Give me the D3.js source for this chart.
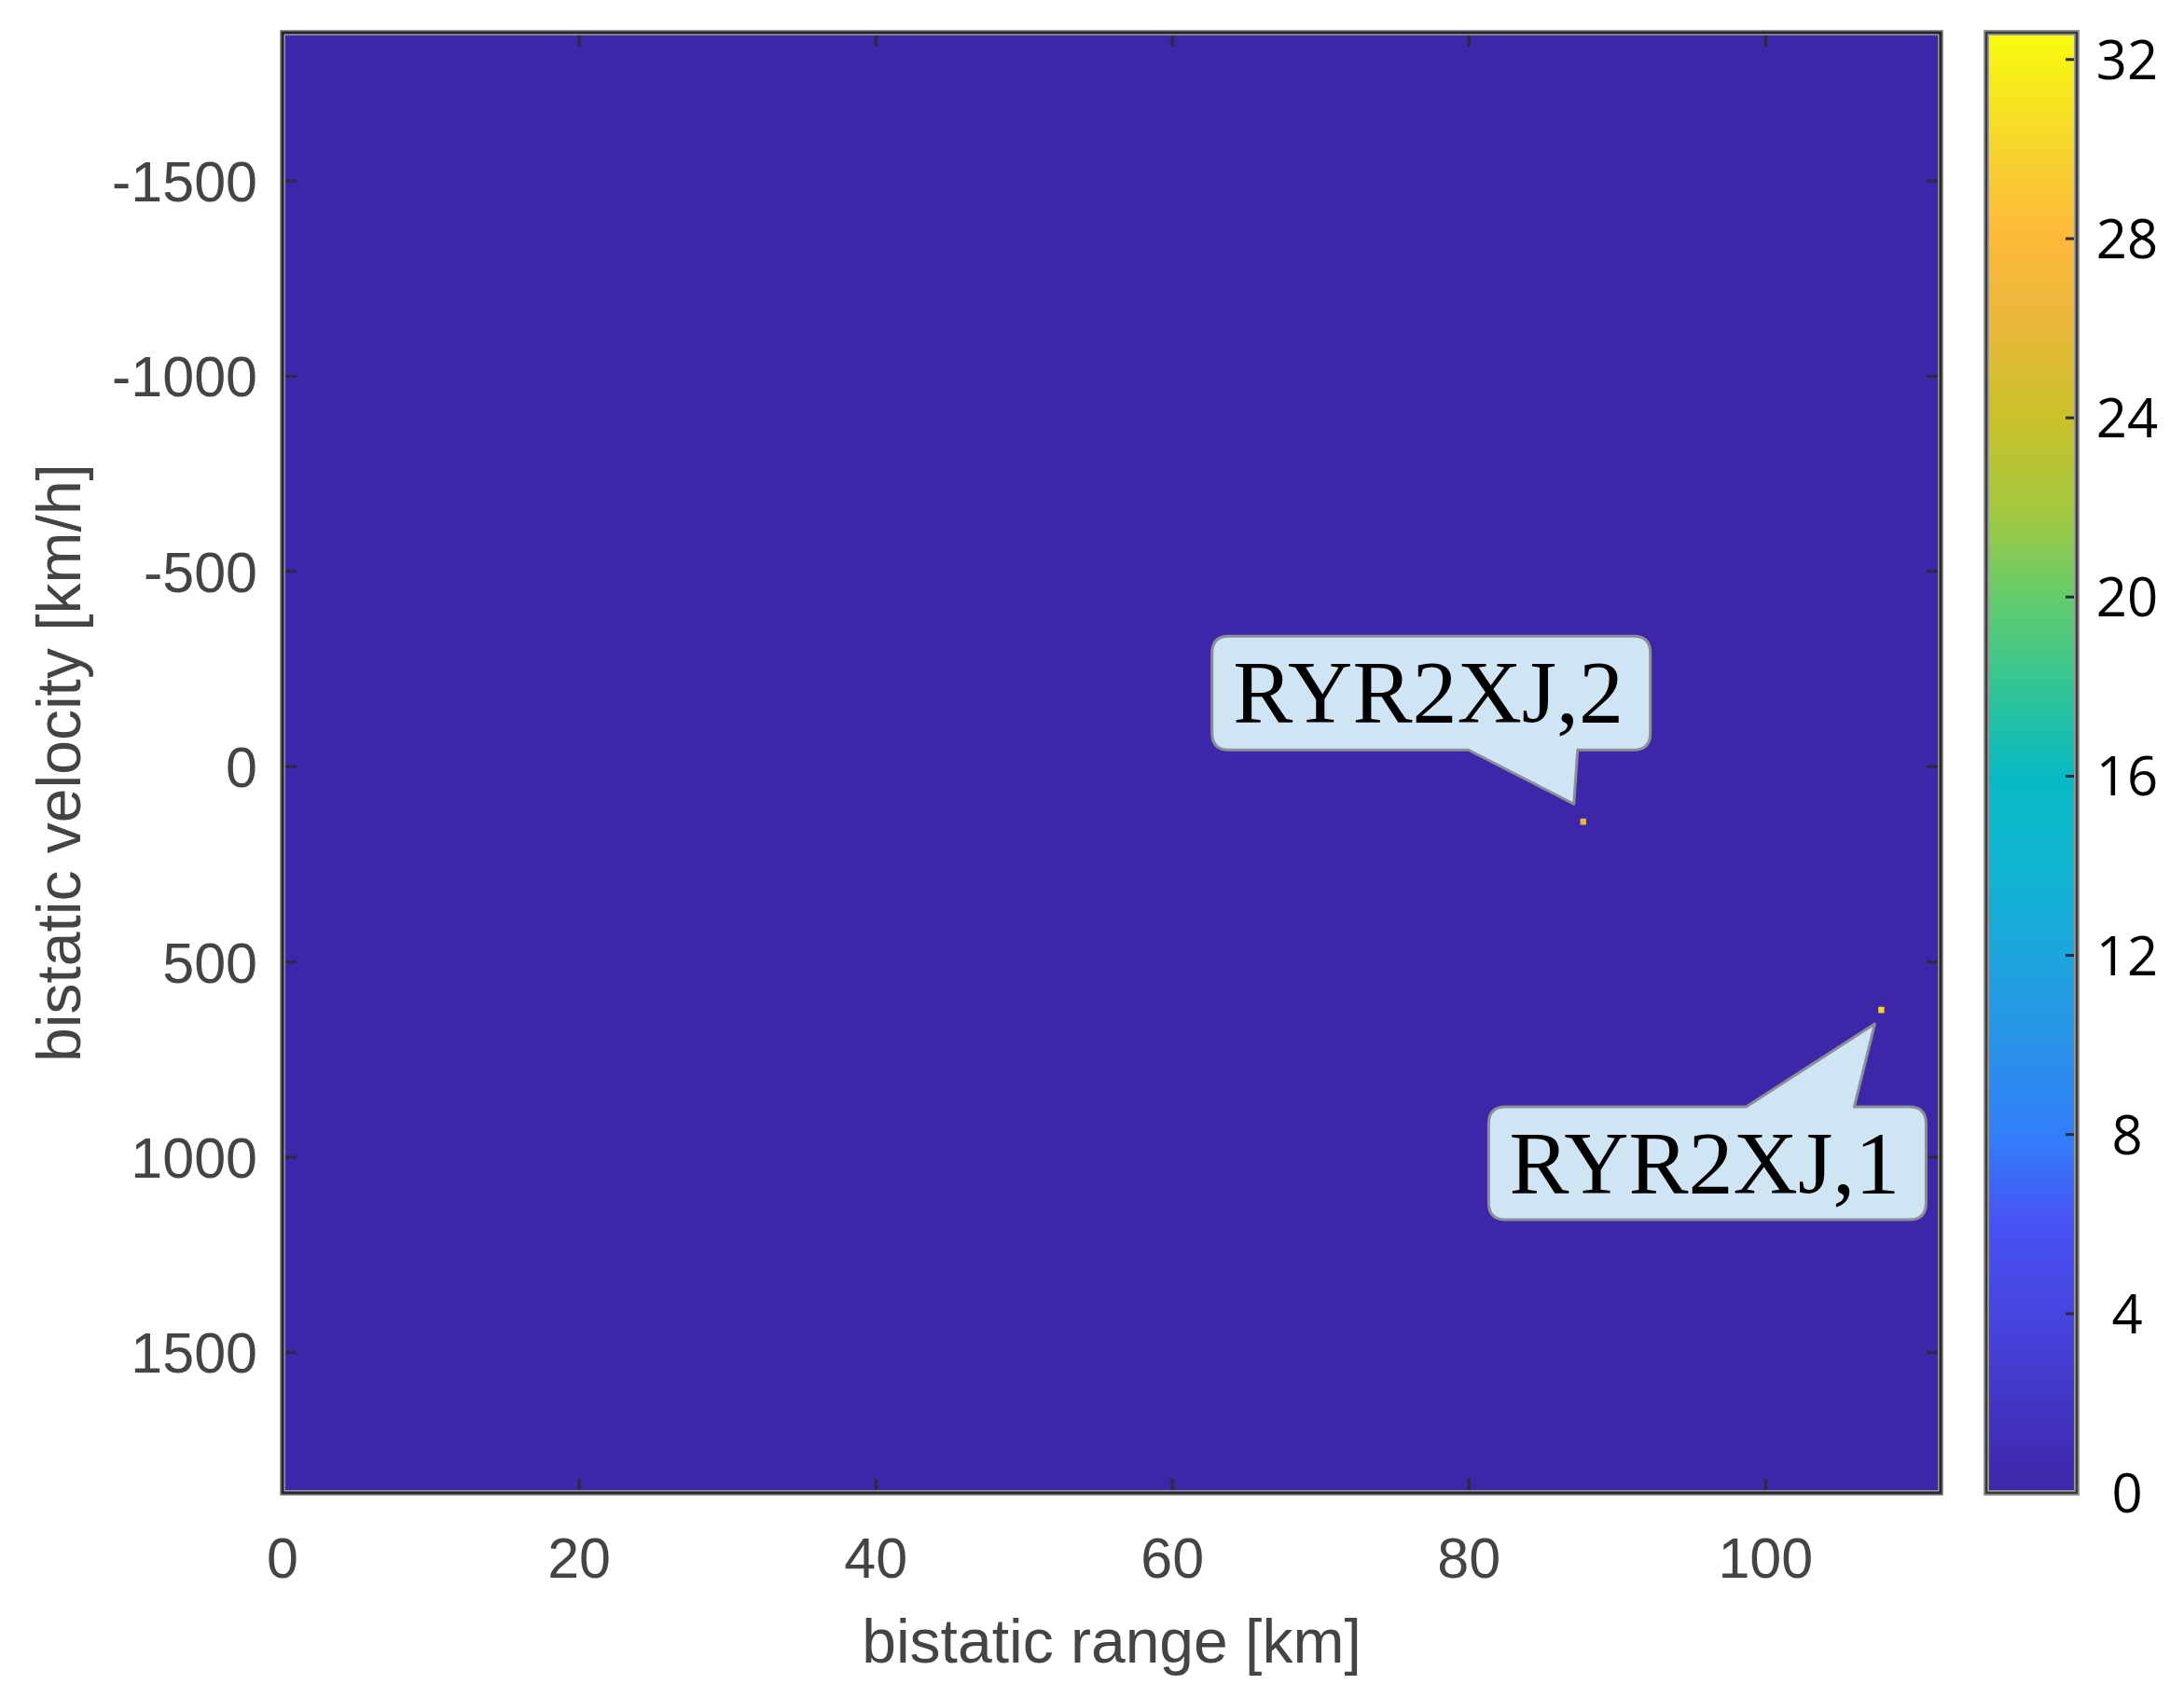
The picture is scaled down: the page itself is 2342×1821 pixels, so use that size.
<!DOCTYPE html>
<html lang="en">
<head>
<meta charset="UTF-8">
<script src="https://d3js.org/d3.v7.min.js"></script>
<title>Range-Doppler map</title>
<style>
  html, body { margin: 0; padding: 0; background: #fff; }
</style>
</head>
<body>
<script>
// axes
var rangeDomain = [0, 111.8];          // bistatic range [km]
var velocityDomain = [-1880, 1860];    // bistatic velocity [km/h]
var xTicks = [0, 20, 40, 60, 80, 100];
var yTicks = [-1500, -1000, -500, 0, 500, 1000, 1500];
var colorTicks = [0, 4, 8, 12, 16, 20, 24, 28, 32];
var colorMax = 32.6;

// detections (everything else in the map is 0)
var targetLabels = ["RYR2XJ,1", "RYR2XJ,2"];
var targetRange = [107.8, 87.7];
var targetVelocity = [623, 141];
var targetPower = [30, 26];
var rangeBin = 0.4;
var velocityBin = 16;

// parula-like colormap, sampled off the colorbar
var cmapValues = [0, 4, 6, 8, 10, 12, 14, 16, 18, 20, 22, 24, 26, 28, 30, 32.6];
var cmapColors = ["#3e26a8", "#4745e0", "#4852f3", "#327ffa", "#2a92e8", "#1da5dd", "#10b5d0",
                  "#08b9c4", "#32c595", "#64cc6c", "#a6c83f", "#cac12a", "#e8b83a", "#fdb93a",
                  "#f6d42e", "#f9fb0e"];

var W = 2342, H = 1821;
var svg = d3.select("body").append("svg")
    .attr("width", W)
    .attr("height", H)
    .style("display", "block");

var x = d3.scaleLinear().domain(rangeDomain).range([303, 2081]);
var y = d3.scaleLinear().domain(velocityDomain).range([35, 1601]);
var color = d3.scaleLinear()
    .domain(cmapValues)
    .range(cmapColors)
    .interpolate(d3.interpolateRgb)
    .clamp(true);

var tickFont = "'Liberation Sans', Arial, sans-serif";
var tickColor = "#444";

// heat map background (all zero cells)
svg.append("rect")
    .attr("x", x(rangeDomain[0]))
    .attr("y", y(velocityDomain[0]))
    .attr("width", x(rangeDomain[1]) - x(rangeDomain[0]))
    .attr("height", y(velocityDomain[1]) - y(velocityDomain[0]))
    .attr("fill", color(0));

var targets = targetLabels.map(function(l, i) {
    return { label: l, r: targetRange[i], v: targetVelocity[i], p: targetPower[i] };
});

svg.selectAll("rect.cell")
    .data(targets)
    .enter()
    .append("rect")
    .attr("class", "cell")
    .attr("x", function(d) { return x(d.r - rangeBin / 2); })
    .attr("y", function(d) { return y(d.v - velocityBin / 2); })
    .attr("width", function(d) { return x(d.r + rangeBin / 2) - x(d.r - rangeBin / 2); })
    .attr("height", function(d) { return y(d.v + velocityBin / 2) - y(d.v - velocityBin / 2); })
    .attr("fill", function(d) { return color(d.p); });

// ticks inside the box, all four sides
var tl = 15;
var tg = svg.append("g").attr("stroke", "#2a2a40").attr("stroke-width", 3);
xTicks.forEach(function(t) {
    tg.append("line").attr("x1", x(t)).attr("x2", x(t)).attr("y1", 1601).attr("y2", 1601 - tl);
    tg.append("line").attr("x1", x(t)).attr("x2", x(t)).attr("y1", 35).attr("y2", 35 + tl);
});
yTicks.forEach(function(t) {
    tg.append("line").attr("x1", 303).attr("x2", 303 + tl).attr("y1", y(t)).attr("y2", y(t));
    tg.append("line").attr("x1", 2081).attr("x2", 2081 - tl).attr("y1", y(t)).attr("y2", y(t));
});

// box
svg.append("rect")
    .attr("x", 303).attr("y", 35)
    .attr("width", 2081 - 303).attr("height", 1601 - 35)
    .attr("fill", "none")
    .attr("stroke", "#999").attr("stroke-width", 6);
svg.append("rect")
    .attr("x", 303).attr("y", 35)
    .attr("width", 2081 - 303).attr("height", 1601 - 35)
    .attr("fill", "none")
    .attr("stroke", "#262630").attr("stroke-width", 3);

// tick labels
svg.selectAll("text.xt")
    .data(xTicks)
    .enter()
    .append("text")
    .attr("x", function(d) { return x(d); })
    .attr("y", 1692)
    .attr("text-anchor", "middle")
    .attr("font-family", tickFont)
    .attr("font-size", 61)
    .attr("fill", tickColor)
    .text(function(d) { return d; });

svg.selectAll("text.yt")
    .data(yTicks)
    .enter()
    .append("text")
    .attr("x", 276)
    .attr("y", function(d) { return y(d) + 22; })
    .attr("text-anchor", "end")
    .attr("font-family", tickFont)
    .attr("font-size", 61)
    .attr("fill", tickColor)
    .text(function(d) { return d; });

svg.append("text")
    .attr("x", (303 + 2081) / 2)
    .attr("y", 1783)
    .attr("text-anchor", "middle")
    .attr("font-family", tickFont)
    .attr("font-size", 66)
    .attr("fill", tickColor)
    .text("bistatic range [km]");

svg.append("text")
    .attr("transform", "translate(86," + (35 + 1601) / 2 + ") rotate(-90)")
    .attr("text-anchor", "middle")
    .attr("font-family", tickFont)
    .attr("font-size", 66)
    .attr("fill", tickColor)
    .text("bistatic velocity [km/h]");

// callouts: box and tail given in px relative to the detection cell
var calloutLayout = {
    "RYR2XJ,2": { box: [-398, -199, 72, -77], tail: "bottom", base: [-123, -6], tip: [-10, -19] },
    "RYR2XJ,1": { box: [-421, 104, 48, 225], tail: "top", base: [-145, -29], tip: [-7, 15] }
};

function calloutPath(px, py, L) {
    var x0 = px + L.box[0], y0 = py + L.box[1], x1 = px + L.box[2], y1 = py + L.box[3];
    var r = 18;
    var b0 = px + L.base[0], b1 = px + L.base[1];
    var tx = px + L.tip[0], ty = py + L.tip[1];
    var p = "M" + (x0 + r) + "," + y0;
    if (L.tail === "top") p += " L" + b0 + "," + y0 + " L" + tx + "," + ty + " L" + b1 + "," + y0;
    p += " L" + (x1 - r) + "," + y0 + " Q" + x1 + "," + y0 + " " + x1 + "," + (y0 + r);
    p += " L" + x1 + "," + (y1 - r) + " Q" + x1 + "," + y1 + " " + (x1 - r) + "," + y1;
    if (L.tail === "bottom") p += " L" + b1 + "," + y1 + " L" + tx + "," + ty + " L" + b0 + "," + y1;
    p += " L" + (x0 + r) + "," + y1 + " Q" + x0 + "," + y1 + " " + x0 + "," + (y1 - r);
    p += " L" + x0 + "," + (y0 + r) + " Q" + x0 + "," + y0 + " " + (x0 + r) + "," + y0 + " Z";
    return p;
}

var callouts = svg.selectAll("g.callout")
    .data(targets)
    .enter()
    .append("g")
    .attr("class", "callout");

callouts.append("path")
    .attr("d", function(d) { return calloutPath(x(d.r), y(d.v), calloutLayout[d.label]); })
    .attr("fill", "#cfe5f3")
    .attr("stroke", "#8a8f98")
    .attr("stroke-width", 3)
    .attr("stroke-linejoin", "round");

callouts.append("text")
    .attr("x", function(d) { var L = calloutLayout[d.label]; return x(d.r) + (L.box[0] + L.box[2]) / 2 - 3; })
    .attr("y", function(d) { var L = calloutLayout[d.label]; return y(d.v) + (L.box[1] + L.box[3]) / 2 + 32; })
    .attr("text-anchor", "middle")
    .attr("font-family", "'Liberation Serif', 'Times New Roman', serif")
    .attr("font-size", 96)
    .attr("fill", "#000")
    .text(function(d) { return d.label; });

// colorbar
var cx0 = 2130, cx1 = 2227;
var cy = d3.scaleLinear().domain([0, colorMax]).range([1601, 35]);
var steps = d3.range(0, colorMax, colorMax / 400);
svg.selectAll("rect.cb")
    .data(steps)
    .enter()
    .append("rect")
    .attr("class", "cb")
    .attr("x", cx0)
    .attr("width", cx1 - cx0)
    .attr("y", function(d) { return cy(d + colorMax / 400) - 0.5; })
    .attr("height", function(d) { return cy(d) - cy(d + colorMax / 400) + 1; })
    .attr("fill", function(d) { return color(d + colorMax / 800); });

svg.selectAll("line.cbt")
    .data(colorTicks)
    .enter()
    .append("line")
    .attr("x1", cx1 - 12).attr("x2", cx1)
    .attr("y1", function(d) { return cy(d); })
    .attr("y2", function(d) { return cy(d); })
    .attr("stroke", "#2a2a40").attr("stroke-width", 3);

svg.append("rect")
    .attr("x", cx0).attr("y", 35)
    .attr("width", cx1 - cx0).attr("height", 1601 - 35)
    .attr("fill", "none")
    .attr("stroke", "#999").attr("stroke-width", 6);
svg.append("rect")
    .attr("x", cx0).attr("y", 35)
    .attr("width", cx1 - cx0).attr("height", 1601 - 35)
    .attr("fill", "none")
    .attr("stroke", "#3a3a3a").attr("stroke-width", 2.5);

svg.selectAll("text.ct")
    .data(colorTicks)
    .enter()
    .append("text")
    .attr("x", 2281)
    .attr("y", function(d) { return cy(d) + 21; })
    .attr("text-anchor", "middle")
    .attr("font-family", "'Open Sans', 'Noto Sans', sans-serif")
    .attr("font-size", 58)
    .attr("fill", "#000")
    .text(function(d) { return d; });
</script>
</body>
</html>
